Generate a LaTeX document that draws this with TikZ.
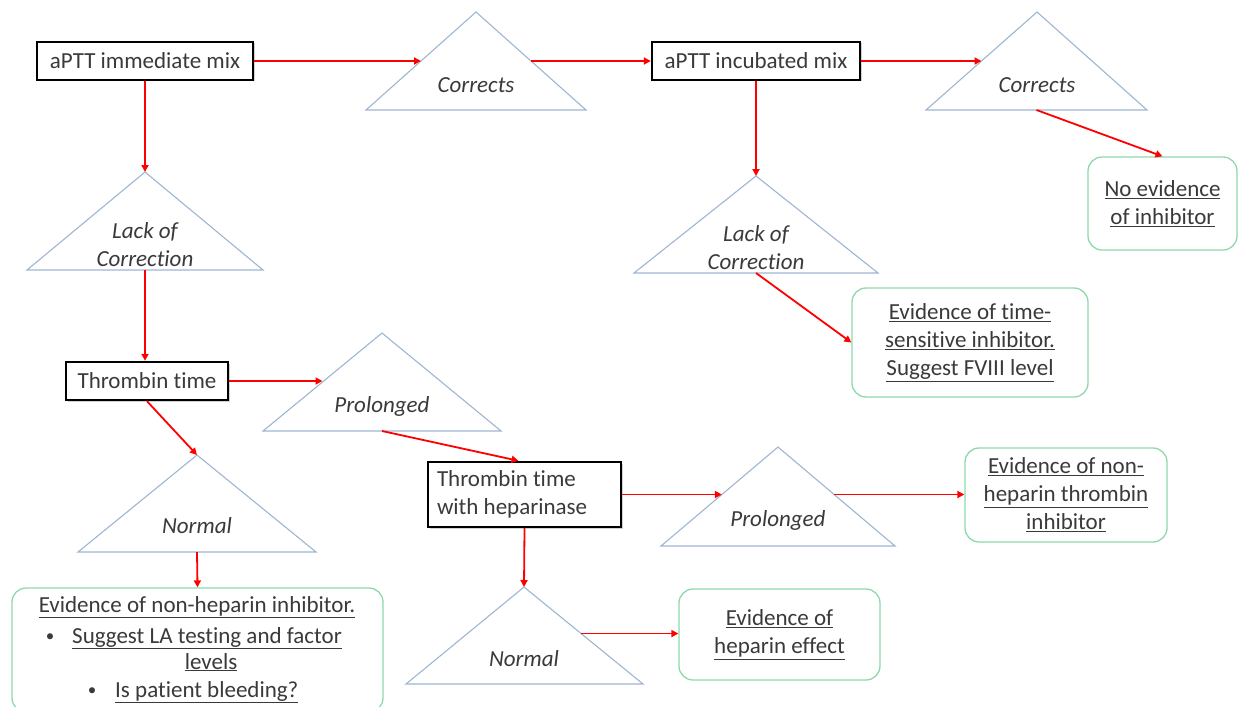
\documentclass[tikz,border=0pt]{standalone}
\usepackage{fontspec}
\setmainfont{Carlito}[Ligatures=NoCommon]
\usetikzlibrary{arrows.meta,calc,shadows}
\definecolor{txt}{HTML}{3A3A3A}
\definecolor{tribl}{HTML}{9FB6D2}
\definecolor{grn}{HTML}{8FD8AA}
\definecolor{arrred}{HTML}{FF0000}
\tikzset{
  every node/.style={font=\fontsize{23}{28}\selectfont, text=txt},
  blackbox/.style={draw=black, line width=2.4pt, fill=white, inner sep=0pt,
    drop shadow={shadow xshift=1.5pt, shadow yshift=-1.5pt, fill=black!35}},
  gbox/.style={draw=grn, line width=1.3pt, rounded corners=14pt, fill=white,
    inner sep=0pt, align=center},
  tri/.style={draw=tribl, line width=1.1pt, fill=white},
  trilbl/.style={font=\fontsize{23}{28}\selectfont\itshape, align=center},
  arr/.style={draw=arrred, line width=1.8pt, -{Triangle[length=7pt,width=7pt]}},
}
\begin{document}
\begin{tikzpicture}[x=1pt,y=-1pt]
\useasboundingbox (0,0) rectangle (1238,706);

% triangles
\coordinate (t1a) at (476,12);  \coordinate (t1l) at (366,110); \coordinate (t1r) at (586,110);
\coordinate (t2a) at (1037,12); \coordinate (t2l) at (926,110); \coordinate (t2r) at (1147,110);
\coordinate (t3a) at (145,172); \coordinate (t3l) at (27,270);  \coordinate (t3r) at (263,270);
\coordinate (t4a) at (756,176); \coordinate (t4l) at (634,273); \coordinate (t4r) at (878,273);
\coordinate (t5a) at (382,333); \coordinate (t5l) at (263,431); \coordinate (t5r) at (501,431);
\coordinate (t6a) at (197,455); \coordinate (t6l) at (78,552);  \coordinate (t6r) at (316,552);
\coordinate (t7a) at (778,447); \coordinate (t7l) at (661,546); \coordinate (t7r) at (895,546);
\coordinate (t8a) at (524,587); \coordinate (t8l) at (406,684); \coordinate (t8r) at (643,684);
\foreach \t in {t1,t2,t3,t4,t5,t6,t7,t8}
  \draw[tri] (\t a) -- (\t l) -- (\t r) -- cycle;
\coordinate (t1m) at ($(t1a)!0.5!(t1l)$);
\coordinate (t1n) at ($(t1a)!0.5!(t1r)$);
\coordinate (t2m) at ($(t2a)!0.5!(t2l)$);
\coordinate (t5m) at ($(t5a)!0.5!(t5l)$);
\coordinate (t7m) at ($(t7a)!0.48!(t7l)$);
\coordinate (t7n) at ($(t7a)!0.48!(t7r)$);
\coordinate (t8n) at ($(t8a)!0.48!(t8r)$);

\node[trilbl] (c1) at (476,85) {Corrects};
\node[trilbl] (c2) at (1037,85) {Corrects};
\node[trilbl] (c3) at (145,245) {Lack of\\Correction};
\node[trilbl] (c4) at (756,248) {Lack of\\Correction};
\node[trilbl] (c5) at (382,406) {Prolonged};
\node[trilbl] (c6) at (197,526) {Normal};
\node[trilbl] (c7) at (778,520) {Prolonged};
\node[trilbl] (c8) at (524,659) {Normal};

% black boxes
\node[blackbox, minimum width=216pt, minimum height=38pt] (b1) at (145,61) {aPTT immediate mix};
\node[blackbox, minimum width=208pt, minimum height=38pt] (b2) at (756,61) {aPTT incubated mix};
\node[blackbox, minimum width=162pt, minimum height=38pt] (b3) at (147,381) {Thrombin time};
\node[blackbox, minimum width=193pt, minimum height=65pt, align=flush left, text width=175pt] (b4) at (524.5,494.5) {Thrombin time\\with heparinase};

% green boxes
\node[gbox, minimum width=149pt, minimum height=93pt] (n1) at (1162.5,203.5) {\underline{No evidence}\\\underline{of inhibitor}};
\node[gbox, minimum width=236pt, minimum height=109pt] (n2) at (970,342.5) {\underline{Evidence of time-}\\\underline{sensitive inhibitor.}\\\underline{Suggest FVIII level}};
\node[gbox, minimum width=202pt, minimum height=94pt] (n3) at (1066,495) {\underline{Evidence of non-}\\\underline{heparin thrombin}\\\underline{inhibitor}};
\node[gbox, minimum width=201pt, minimum height=91pt] (n4) at (779.5,634.5) {\underline{Evidence of}\\\underline{heparin effect}};
\node[gbox, minimum width=371pt, minimum height=124pt] (n5) at (197.5,650) {};
\node[anchor=base] (n5a) at (197,612) {\underline{Evidence of non-heparin inhibitor.}};
\node[anchor=base, font=\fontsize{17}{28}\selectfont] (n5b) at (50,641) {•};
\node[anchor=base west, inner sep=0pt] (n5c) at (72,643) {\underline{Suggest LA testing and factor}};
\node[anchor=base] (n5d) at (211,669) {\underline{levels}};
\node[anchor=base, font=\fontsize{17}{28}\selectfont] (n5e) at (92,695) {•};
\node[anchor=base west, inner sep=0pt] (n5f) at (115,697) {\underline{Is patient bleeding?}};

% connectors
\draw[arr] (b1.east) -- (b1.east -| t1m);
\draw[arr] (t1n) -- (t1n -| b2.west);
\draw[arr] (b2.east) -- (b2.east -| t2m);
\draw[arr] ($(t2l)!0.5!(t2r)$) -- (n1.north);
\draw[arr] (b1.south) -- (t3a);
\draw[arr] ($(t3l)!0.5!(t3r)$) -- (b3.north -| t3a);
\draw[arr] (b2.south) -- (t4a);
\draw[arr] ($(t4l)!0.5!(t4r)$) -- (n2.west);
\draw[arr] (b3.east) -- (b3.east -| t5m);
\draw[arr] ($(t5l)!0.5!(t5r)$) -- ($(b4.north)+(-6,0)$);
\draw[arr] (b3.south) -- (t6a);
\draw[arr] ($(t6l)!0.5!(t6r)$) -- (n5.north);
\draw[arr] (b4.east) -- (b4.east -| t7m);
\draw[arr] (t7n) -- (t7n -| n3.west);
\draw[arr] (b4.south) -- (t8a);
\draw[arr] (t8n) -- (t8n -| n4.west);
\end{tikzpicture}
\end{document}
